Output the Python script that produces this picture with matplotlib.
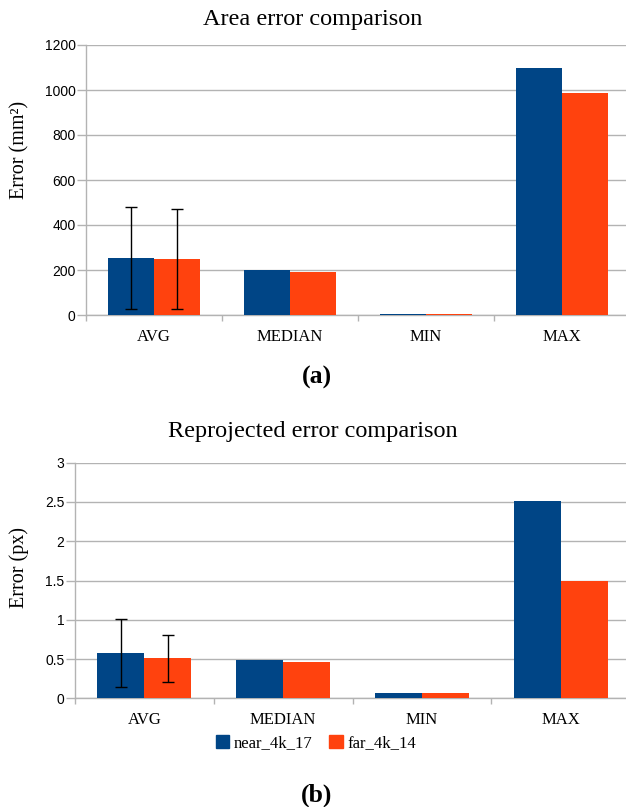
import matplotlib
matplotlib.use("Agg")
import matplotlib.pyplot as plt
import numpy as np
from matplotlib.patches import Patch

categories = ["AVG", "MEDIAN", "MIN", "MAX"]
series_names = ["near_4k_17", "far_4k_14"]

area_near = [253, 200, 5, 1098]
area_far = [249, 191, 5, 987]
area_near_err = [225, 0, 0, 0]
area_far_err = [221, 0, 0, 0]

reproj_near = [0.58, 0.49, 0.07, 2.51]
reproj_far = [0.51, 0.46, 0.07, 1.49]
reproj_near_err = [0.43, 0, 0, 0]
reproj_far_err = [0.30, 0, 0, 0]

BLUE = "#004586"
ORANGE = "#ff420e"
GRID = "#b3b3b3"
SERIF = "Liberation Serif"
SANS = "Liberation Sans"

W, H = 626, 807
fig = plt.figure(figsize=(W / 100, H / 100), dpi=100)


def make_panel(rect, near, far, nerr, ferr, ylim, yticks, yfmt, title, ylabel, title_y):
    ax = fig.add_axes(rect)
    x = np.arange(len(categories))
    w = 0.338
    ax.bar(x - w / 2, near, w, color=BLUE, zorder=3)
    ax.bar(x + w / 2, far, w, color=ORANGE, zorder=3)
    idx = [i for i, e in enumerate(nerr) if e > 0]
    ax.errorbar(x[idx] - w / 2, [near[i] for i in idx], yerr=[nerr[i] for i in idx],
                fmt="none", ecolor="black", elinewidth=1, capsize=4, capthick=1, zorder=4)
    idx = [i for i, e in enumerate(ferr) if e > 0]
    ax.errorbar(x[idx] + w / 2, [far[i] for i in idx], yerr=[ferr[i] for i in idx],
                fmt="none", ecolor="black", elinewidth=1, capsize=4, capthick=1, zorder=4)
    ax.set_xlim(-0.5, len(categories) - 0.5)
    ax.set_ylim(*ylim)
    ax.set_yticks(yticks)
    ax.set_yticklabels([yfmt(v) for v in yticks], fontfamily=SANS, fontsize=10)
    ax.yaxis.grid(True, color=GRID, linewidth=1, zorder=0)
    ax.set_axisbelow(True)
    ax.tick_params(axis="y", length=6.5, width=1, color=GRID, pad=1)
    ax.set_xticks(np.arange(len(categories) + 1) - 0.5)
    ax.set_xticklabels([""] * (len(categories) + 1))
    ax.tick_params(axis="x", which="major", length=4.5, width=1, color=GRID)
    ax.set_xticks(x, minor=True)
    ax.set_xticklabels(categories, minor=True, fontfamily=SERIF, fontsize=12)
    ax.tick_params(axis="x", which="minor", length=0, pad=10)
    for s in ["top", "right"]:
        ax.spines[s].set_visible(False)
    for s in ["left", "bottom"]:
        ax.spines[s].set_color(GRID)
        ax.spines[s].set_linewidth(1)
    ax.set_ylabel(ylabel, fontfamily=SERIF, fontsize=14.5)
    fig.text(313 / W, 1 - title_y / H, title, fontfamily=SERIF, fontsize=17.5,
             ha="center", va="center")
    return ax


def fmt_int(v):
    return "%d" % v


def fmt_g(v):
    return ("%g" % v)


ax1 = make_panel([86 / W, 1 - 315 / H, 544 / W, 270 / H], area_near, area_far,
                 area_near_err, area_far_err, (0, 1200), [0, 200, 400, 600, 800, 1000, 1200],
                 fmt_int, "Area error comparison", "Error (mm²)", 19)
ax1.yaxis.set_label_coords((29 - 86) / 544, (315 - 150) / 270)

ax2 = make_panel([75 / W, 1 - 698.3 / H, 555 / W, 235.6 / H], reproj_near, reproj_far,
                 reproj_near_err, reproj_far_err, (0, 3), [0, 0.5, 1, 1.5, 2, 2.5, 3],
                 fmt_g, "Reprojected error comparison", "Error (px)", 432)
ax2.yaxis.set_label_coords((29 - 75) / 555, (698.3 - 567) / 235.6)

fig.text(317 / W, 1 - 377 / H, "(a)", fontfamily=SERIF, fontweight="bold", fontsize=18.5,
         ha="center", va="center")
fig.text(317 / W, 1 - 795 / H, "(b)", fontfamily=SERIF, fontweight="bold", fontsize=18.5,
         ha="center", va="center")

handles = [Patch(facecolor=BLUE, edgecolor=BLUE), Patch(facecolor=ORANGE, edgecolor=ORANGE)]
fig.legend(handles, series_names, loc="center", bbox_to_anchor=(316 / W, 1 - 743 / H),
           ncol=2, frameon=False, prop={"family": SERIF, "size": 12},
           handlelength=0.8, handleheight=0.8, handletextpad=0.3, columnspacing=1.0)

fig.savefig("out.png", dpi=100)
